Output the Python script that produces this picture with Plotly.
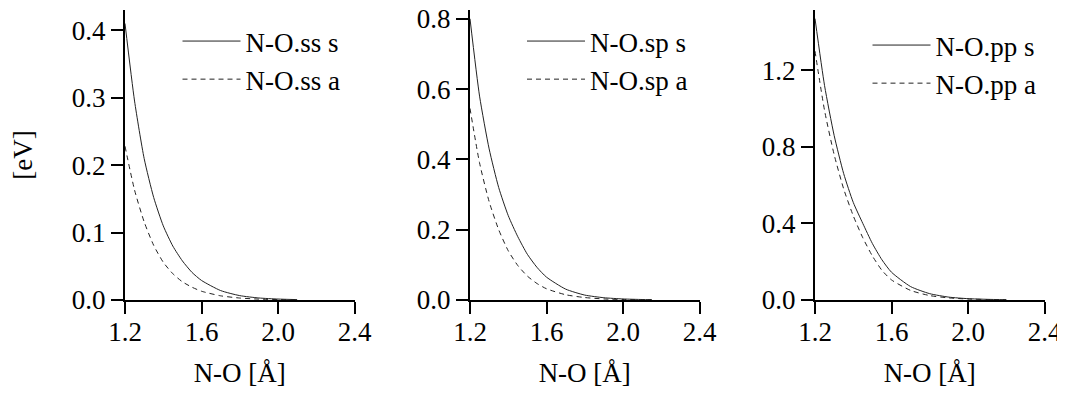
import plotly.graph_objects as go

# N-O distance grids [Å]
x_ss = [1.2, 1.25, 1.3, 1.35, 1.4, 1.45, 1.5, 1.55, 1.6, 1.7, 1.8, 1.9, 2.0, 2.1]
x_sp = [1.2, 1.25, 1.3, 1.35, 1.4, 1.45, 1.5, 1.55, 1.6, 1.7, 1.8, 1.9, 2.0, 2.1, 2.15]
x_pp = [1.2, 1.25, 1.3, 1.35, 1.4, 1.45, 1.5, 1.55, 1.6, 1.7, 1.8, 1.9, 2.0, 2.1, 2.2]

# values [eV]
ss_s = [0.41, 0.295, 0.21, 0.152, 0.11, 0.08, 0.058, 0.041, 0.029, 0.014, 0.0065, 0.003, 0.0014, 0.0006]
ss_a = [0.228, 0.163, 0.116, 0.081, 0.056, 0.039, 0.027, 0.019, 0.013, 0.0062, 0.0029, 0.0013, 0.0006, 0.0003]
sp_s = [0.80, 0.58, 0.43, 0.32, 0.24, 0.18, 0.13, 0.093, 0.065, 0.031, 0.014, 0.0065, 0.003, 0.0014, 0.001]
sp_a = [0.545, 0.39, 0.28, 0.20, 0.14, 0.098, 0.068, 0.047, 0.032, 0.015, 0.007, 0.003, 0.0014, 0.0007, 0.0005]
pp_s = [1.47, 1.12, 0.86, 0.66, 0.51, 0.40, 0.295, 0.21, 0.145, 0.07, 0.033, 0.015, 0.007, 0.0035, 0.0015]
pp_a = [1.30, 0.99, 0.76, 0.58, 0.44, 0.325, 0.23, 0.155, 0.105, 0.05, 0.023, 0.011, 0.005, 0.0025, 0.0012]

names = [("N-O.ss s", "N-O.ss a"), ("N-O.sp s", "N-O.sp a"), ("N-O.pp s", "N-O.pp a")]
xs = [x_ss, x_sp, x_pp]
s_vals = [ss_s, sp_s, pp_s]
a_vals = [ss_a, sp_a, pp_a]
y_top = [0.43, 0.825, 1.515]
y_ticks = [[0.0, 0.1, 0.2, 0.3, 0.4], [0.0, 0.2, 0.4, 0.6, 0.8], [0.0, 0.4, 0.8, 1.2]]
x_ticks = [1.2, 1.6, 2.0, 2.4]

# the page body adds an 8px margin, so the figure is sized/positioned to compensate
OFF = 8
W, H = 1065 - OFF, 400 - 2 * OFF
x_left_px = [125 - OFF, 470 - OFF, 815 - OFF]
plot_w_px = 229.5
y_top_px, y_bot_px = 10 - OFF, 300 - OFF
legend_x_px = [180.5 - OFF, 525 - OFF, 870.5 - OFF]
legend_top_px = [17 - OFF, 17 - OFF, 21 - OFF]

FONT = "Liberation Serif"
FS = 27
LINE = "#222222"

fig = go.Figure()
for i in range(3):
    sfx = "" if i == 0 else str(i + 1)
    leg = "legend" if i == 0 else f"legend{i + 1}"
    fig.add_trace(go.Scatter(x=xs[i], y=s_vals[i], mode="lines", name=names[i][0],
                             line=dict(color=LINE, width=1, shape="spline", smoothing=0.6),
                             xaxis="x" + sfx, yaxis="y" + sfx, legend=leg))
    fig.add_trace(go.Scatter(x=xs[i], y=a_vals[i], mode="lines", name=names[i][1],
                             line=dict(color=LINE, width=1, dash="5px,4px", shape="spline", smoothing=0.6),
                             xaxis="x" + sfx, yaxis="y" + sfx, legend=leg))

layout = dict(
    width=W, height=H,
    margin=dict(l=0, r=0, t=0, b=0, autoexpand=False),
    paper_bgcolor="white", plot_bgcolor="white",
    font=dict(family=FONT, size=FS, color="black"),
    showlegend=True,
)
axis_common = dict(showline=True, linecolor="black", linewidth=2, ticks="outside",
                   ticklen=12, tickwidth=2, tickcolor="black", showgrid=False,
                   zeroline=False, automargin=False, ticklabeloverflow="allow",
                   tickfont=dict(family=FONT, size=FS, color="black"))
for i in range(3):
    sfx = "" if i == 0 else str(i + 1)
    x0 = x_left_px[i] / W
    x1 = (x_left_px[i] + plot_w_px) / W
    layout["xaxis" + sfx] = dict(axis_common, domain=[x0, x1], range=[1.2, 2.4],
                                 tickvals=x_ticks, tickformat=".1f", ticklabelstandoff=-5,
                                 anchor="y" + sfx,
                                 title=dict(text="N-O [Å]", standoff=17,
                                            font=dict(family=FONT, size=FS, color="black")))
    ya = dict(axis_common, domain=[1 - y_bot_px / H, 1 - y_top_px / H], range=[0, y_top[i]],
              tickvals=y_ticks[i], tickformat=".1f", anchor="x" + sfx)
    if i == 0:
        ya["title"] = dict(text="[eV]", standoff=31, font=dict(family=FONT, size=FS, color="black"))
    layout["yaxis" + sfx] = ya
    leg = "legend" if i == 0 else f"legend{i + 1}"
    layout[leg] = dict(x=(legend_x_px[i] - 3) / W, y=1 - legend_top_px[i] / H,
                       xanchor="left", yanchor="top",
                       bgcolor="rgba(0,0,0,0)", borderwidth=0,
                       font=dict(family=FONT, size=FS, color="black"),
                       itemwidth=58, tracegroupgap=0)

fig.update_layout(**layout)
fig.write_html("out.html")
